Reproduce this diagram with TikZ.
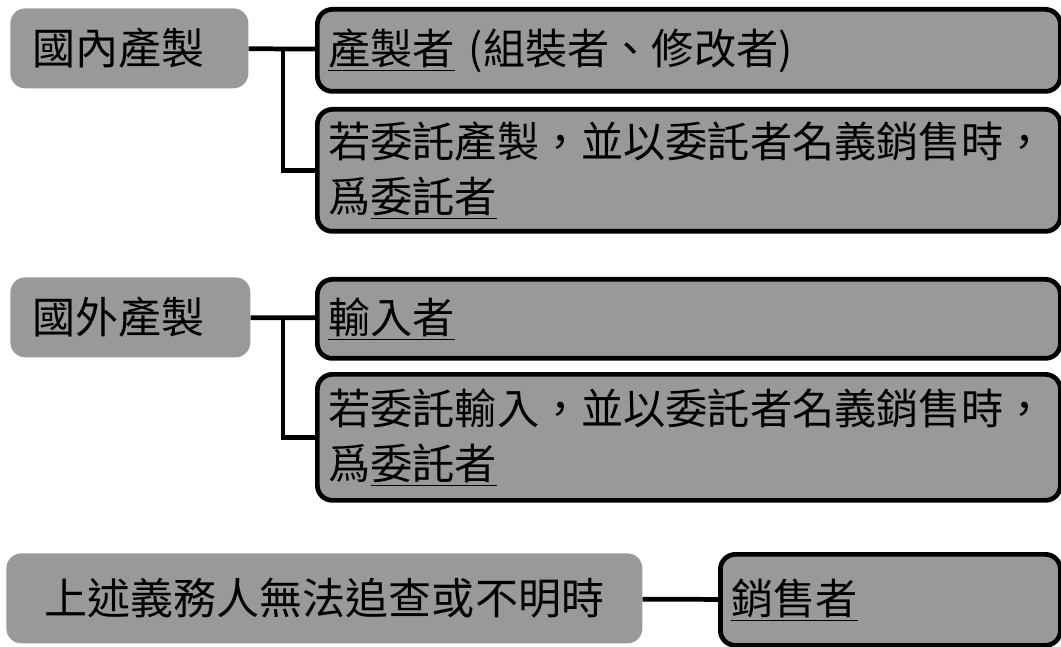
\documentclass[tikz,border=0pt]{standalone}
\usepackage{fontspec}
\newfontfamily\cjk{Noto Sans CJK TC}
\definecolor{boxgray}{gray}{0.6}

\begin{document}
\begin{tikzpicture}[
    lbox/.style={fill=boxgray,rounded corners=0.3cm,anchor=north west,inner xsep=0.44cm,
      align=left,font=\cjk\fontsize{24.5}{31}\selectfont},
    rbox/.style={draw=black,line width=2.7pt,fill=boxgray,rounded corners=0.3cm,anchor=north west,
      inner xsep=0.22cm,text width=14.42cm,align=left,font=\cjk\fontsize{24}{31}\selectfont},
    link/.style={line width=2.7pt}]
    \useasboundingbox (0,0) rectangle (21.22,-12.94);
    %domestic
    \node[lbox,text width=3.88cm,minimum height=1.6cm] (dom) at (0.2,-0.16) {國內產製};
    \node[rbox,minimum height=1.64cm] (maker) at (6.3,-0.14) {\underline{產製者} (組裝者、修改者)};
    \node[rbox,minimum height=2.44cm] (domagent) at (6.3,-2.14)
      {若委託產製，並以委託者名義銷售時，\\爲\underline{委託者}};
    \coordinate (domjoin) at (5.66,-0.96);
    \draw[link] (dom) -- (maker);
    \draw[link] (domjoin) |- (domagent);
    %foreign
    \node[lbox,text width=3.92cm,minimum height=1.6cm] (frn) at (0.2,-5.54) {國外產製};
    \node[rbox,minimum height=1.58cm] (importer) at (6.3,-5.54) {\underline{輸入者}};
    \node[rbox,minimum height=2.52cm] (frnagent) at (6.3,-7.44)
      {若委託輸入，並以委託者名義銷售時，\\爲\underline{委託者}};
    \coordinate (frnjoin) at (5.66,-6.34);
    \draw[link] (frn) -- (importer);
    \draw[link] (frnjoin) |- (frnagent);
    %fallback
    \node[lbox,align=center,text width=11.84cm,minimum height=1.8cm] (unknown) at (0.12,-11.06)
      {上述義務人無法追查或不明時};
    \node[rbox,text width=6.36cm,minimum height=1.82cm] (seller) at (14.36,-11.04) {\underline{銷售者}};
    \draw[link] (unknown) -- (seller);
\end{tikzpicture}
\end{document}
